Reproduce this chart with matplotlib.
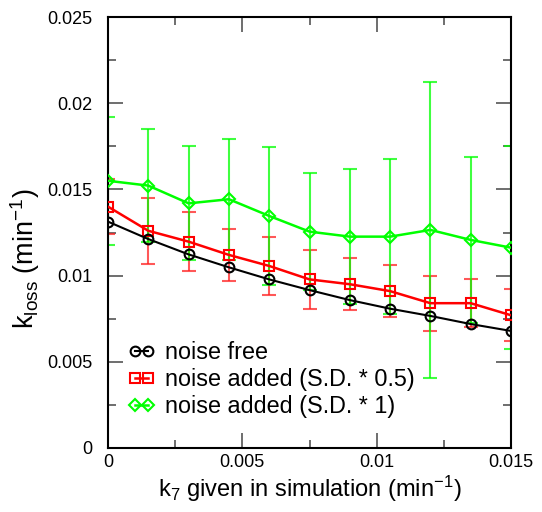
import matplotlib
matplotlib.use("Agg")
import matplotlib.pyplot as plt
from matplotlib.ticker import MultipleLocator

plt.rcParams["font.family"] = ["Liberation Sans", "DejaVu Sans"]
plt.rcParams["mathtext.default"] = "regular"

# k7 values given in simulation (min^-1)
k7 = [0.0, 0.0015, 0.003, 0.0045, 0.006, 0.0075, 0.009, 0.0105, 0.012, 0.0135, 0.015]

# estimated k_loss (min^-1)
noise_free = [0.01313, 0.01212, 0.01123, 0.01048, 0.00978, 0.00916, 0.00858, 0.00808, 0.00766, 0.00719, 0.00679]
noise_half = [0.0140, 0.0126, 0.01197, 0.0112, 0.01056, 0.00978, 0.0095, 0.0091, 0.0084, 0.0084, 0.0077]
noise_half_sd = [0.0016, 0.0019, 0.0017, 0.0015, 0.0017, 0.0017, 0.0015, 0.0015, 0.0016, 0.0014, 0.0015]
noise_full = [0.0155, 0.01522, 0.01419, 0.01443, 0.01346, 0.01255, 0.01226, 0.01226, 0.01265, 0.01207, 0.01162]
noise_full_sd = [0.0037, 0.0033, 0.0033, 0.0035, 0.0040, 0.0034, 0.0039, 0.0045, 0.0086, 0.0048, 0.0059]

labels = ["noise free", "noise added (S.D. * 0.5)", "noise added (S.D. * 1)"]

fig = plt.figure(figsize=(5.42, 5.12), dpi=100)
ax = fig.add_axes([108 / 542, 64 / 512, 403 / 542, 431 / 512])

# error bars
ax.errorbar(k7, noise_half, yerr=noise_half_sd, fmt="none", ecolor="#ff2020",
            elinewidth=1.5, capsize=5, capthick=1.5, alpha=0.75, zorder=2)
ax.errorbar(k7, noise_full, yerr=noise_full_sd, fmt="none", ecolor="#00ff00",
            elinewidth=1.5, capsize=5, capthick=1.5, alpha=0.75, zorder=2)

ax.plot(k7, noise_free, color="black", lw=1.5, marker="o", ms=7,
        mfc="none", mec="black", mew=1.5, label=labels[0], zorder=5)
ax.plot(k7, noise_half, color="#ff0000", lw=1.8, marker="s", ms=6.5,
        mfc="none", mec="#ff0000", mew=1.5, label=labels[1], zorder=4)
ax.plot(k7, noise_full, color="#00ff00", lw=1.8, marker="D", ms=6,
        mfc="none", mec="#00ff00", mew=1.5, label=labels[2], zorder=3)

ax.set_xlim(0, 0.015)
ax.set_ylim(0, 0.025)
ax.xaxis.set_minor_locator(MultipleLocator(0.0025))
ax.yaxis.set_minor_locator(MultipleLocator(0.0025))
ax.set_xticks([0, 0.005, 0.01, 0.015])
ax.set_xticklabels(["0", "0.005", "0.01", "0.015"])
ax.set_yticks([0, 0.005, 0.01, 0.015, 0.02, 0.025])
ax.set_yticklabels(["0", "0.005", "0.01", "0.015", "0.02", "0.025"])

ax.tick_params(which="both", direction="in", top=True, right=True,
               color="#555555", labelsize=13)
ax.tick_params(axis="x", pad=4)
ax.tick_params(axis="y", pad=11)
ax.tick_params(which="major", length=11, width=1.2)
ax.tick_params(which="minor", length=6, width=1.2)
for s in ax.spines.values():
    s.set_linewidth(1.5)

ax.set_xlabel(r"k$_7$ given in simulation (min$^{-1}$)", fontsize=17, labelpad=2)
ax.set_ylabel(r"k$_{loss}$ (min$^{-1}$)", fontsize=19.5)
ax.yaxis.set_label_coords(-0.163, 0.44)

leg = ax.legend(loc="lower left", bbox_to_anchor=(0.05, 0.069), frameon=False,
                numpoints=2, fontsize=16.8, handlelength=1.16, handletextpad=0.43,
                labelspacing=0.17, borderaxespad=0, borderpad=0)

fig.savefig("out.png", dpi=100)
